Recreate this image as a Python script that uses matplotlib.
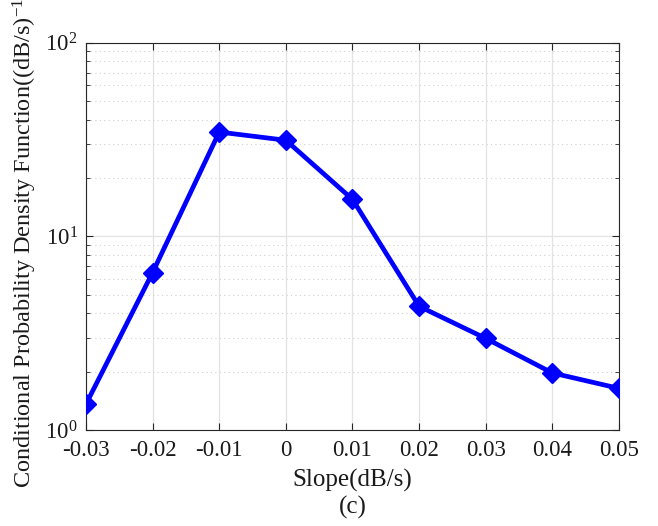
import matplotlib
matplotlib.use('Agg')
import matplotlib.pyplot as plt
from matplotlib.ticker import LogLocator, NullFormatter, LogFormatterMathtext

# values
slope = [-0.03, -0.02, -0.01, 0.0, 0.01, 0.02, 0.03, 0.04, 0.05]
pdf = [1.36, 6.5, 34.5, 31.3, 15.5, 4.35, 2.97, 1.97, 1.64]
xticks = [-0.03, -0.02, -0.01, 0, 0.01, 0.02, 0.03, 0.04, 0.05]
xticklabels = ['-0.03', '-0.02', '-0.01', '0', '0.01', '0.02', '0.03', '0.04', '0.05']

plt.rcParams['font.family'] = ['Liberation Serif', 'DejaVu Serif']
plt.rcParams['mathtext.fontset'] = 'custom'
plt.rcParams['mathtext.rm'] = 'Liberation Serif'
plt.rcParams['mathtext.it'] = 'Liberation Serif:italic'

fig = plt.figure(figsize=(6.58, 5.26), dpi=100)
ax = fig.add_axes([0.1307, 0.1825, 0.81, 0.7367])

ax.plot(slope, pdf, color='#0000ff', linewidth=3.4, marker='D',
        markersize=10, zorder=3)

ax.set_yscale('log')
ax.set_ylim(1, 100)
ax.set_xlim(-0.03, 0.05)
ax.set_xticks(xticks)
ax.set_xticklabels(xticklabels)
ax.yaxis.set_major_locator(LogLocator(base=10))
ax.yaxis.set_major_formatter(LogFormatterMathtext())
ax.yaxis.set_minor_locator(LogLocator(base=10, subs=range(2, 10)))
ax.yaxis.set_minor_formatter(NullFormatter())

ax.grid(True, which='major', color='#e3e3e3', linewidth=0.9, linestyle='-')
ax.grid(True, which='minor', axis='y', color='#d0d0d0', linewidth=0.8,
        linestyle=(0, (1, 3)))
ax.set_axisbelow(True)

ax.tick_params(which='both', direction='in', top=True, right=True,
               colors='#262626', labelsize=16.5)
ax.tick_params(axis='x', which='major', length=5, pad=7)
ax.tick_params(axis='y', which='major', length=5, pad=6)
ax.tick_params(which='minor', length=3)
for lbl in ax.get_xticklabels() + ax.get_yticklabels():
    lbl.set_color('#1a1a1a')
for spine in ax.spines.values():
    spine.set_color('#262626')
    spine.set_linewidth(0.8)

ax.set_xlabel('Slope(dB/s)', fontsize=18, color='#1a1a1a')
ax.xaxis.label.set_va('center')
ax.xaxis.set_label_coords(0.5, -0.129)
# label runs past the top edge in the reference too
ax.set_ylabel('Conditional Probability Density Function((dB/s)$^{-1}$)',
              fontsize=17.5, color='#1a1a1a')
ax.yaxis.label.set_va('center')
ax.yaxis.set_label_coords(-0.114, 0.494)
fig.text(0.5 * (0.1307 + 0.9407), 0.036, '(c)', ha='center', va='center',
         fontsize=18, color='#1a1a1a')

fig.savefig('out.png', dpi=100)
